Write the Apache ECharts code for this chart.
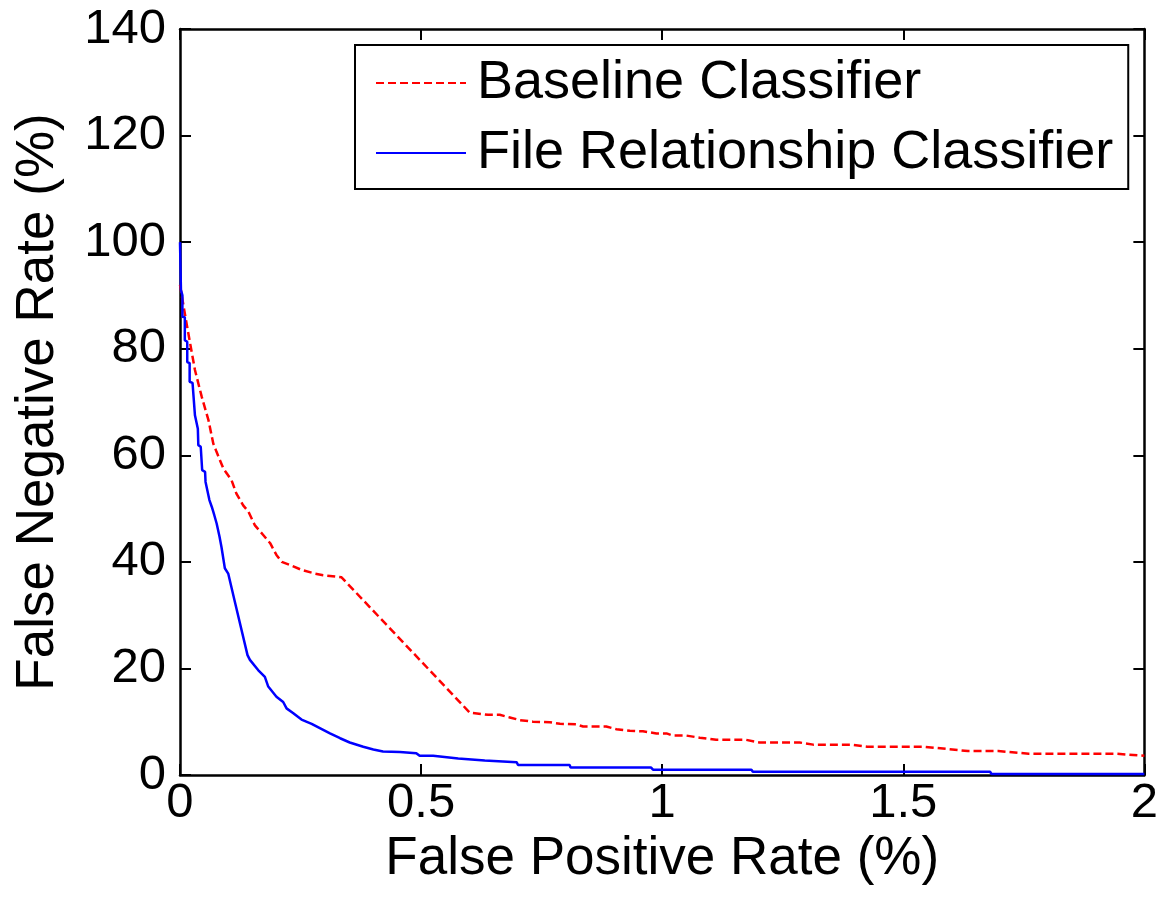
<!DOCTYPE html>
<html>
  <head>
    <meta charset="utf-8" />
    <title>ECharts</title>
    <script src="https://cdn.jsdelivr.net/npm/echarts/dist/echarts.min.js"></script>
    <style>
      html, body { margin: 0; padding: 0; background: #fff; }
    </style>
  </head>
  <body>
    <div id="main" style="width: 1161px; height: 898px;"></div>

    <script type="text/javascript">
      // Baseline classifier (red dashed)
      const baseFpr = [0, 0.01, 0.021, 0.031, 0.045, 0.059, 0.069, 0.076, 0.09, 0.107,
        0.117, 0.131, 0.142, 0.155, 0.173, 0.187, 0.2, 0.211, 0.231, 0.252,
        0.28, 0.297, 0.335, 0.601, 0.639, 0.663, 0.684, 0.705, 0.732, 0.767,
        0.788, 0.822, 0.836, 0.884, 0.905, 0.933, 0.96, 0.988, 1.009, 1.022,
        1.05, 1.078, 1.112, 1.174, 1.202, 1.285, 1.313, 1.39, 1.425, 1.543,
        1.634, 1.697, 1.76, 1.94, 2.0];
      const baseFnr = [92, 86.6, 81, 76, 71, 66.6, 62.2, 60.6, 57.5, 55.3,
        52.8, 50.6, 49.4, 46.9, 45, 43.5, 41.3, 40, 39.3, 38.5,
        37.8, 37.5, 37.1, 11.7, 11.3, 11.3, 10.8, 10.3, 10.0, 9.9,
        9.6, 9.5, 9.1, 9.1, 8.6, 8.3, 8.2, 7.8, 7.8, 7.4,
        7.4, 7.0, 6.6, 6.6, 6.1, 6.1, 5.7, 5.7, 5.3, 5.3,
        4.5, 4.5, 4.0, 4.0, 3.6];

      // File relationship classifier (blue solid)
      const fileFpr = [0, 0.002, 0.005, 0.005, 0.01, 0.01, 0.015, 0.015, 0.02, 0.02,
        0.026, 0.031, 0.035, 0.037, 0.038, 0.043, 0.046, 0.052, 0.053, 0.057,
        0.061, 0.066, 0.071, 0.076, 0.082, 0.086, 0.09, 0.093, 0.1, 0.104,
        0.113, 0.14, 0.145, 0.162, 0.176, 0.183, 0.2, 0.214, 0.221, 0.235,
        0.252, 0.273, 0.29, 0.311, 0.332, 0.352, 0.38, 0.401, 0.421, 0.456,
        0.49, 0.497, 0.525, 0.528, 0.577, 0.58, 0.632, 0.636, 0.698, 0.701,
        0.808, 0.81, 0.977, 0.981, 1.185, 1.188, 1.68, 1.683, 2.0];
      const fileFnr = [100, 91, 90, 86, 85.9, 81.6, 81.3, 77.5, 77.3, 73.8,
        73.6, 67.5, 67.2, 65, 61.9, 61.6, 57.2, 56.9, 55, 54.7,
        51.6, 50.3, 48.8, 47.2, 44.7, 42.8, 42.5, 38.8, 37.8, 37.8,
        32.8, 22.5, 21.6, 19.7, 18.4, 16.6, 14.7, 13.7, 12.5, 11.6,
        10.4, 9.6, 8.8, 7.8, 6.9, 6.1, 5.3, 4.8, 4.4, 4.3,
        4.1, 3.6, 3.6, 3.3, 3.1, 2.8, 2.7, 2.4, 2.4, 1.9,
        1.9, 1.4, 1.4, 1.0, 1.0, 0.6, 0.6, 0.2, 0.2];

      const seriesNames = ['Baseline Classifier', 'File Relationship Classifier'];

      const zip = (xs, ys) => xs.map((x, i) => [x, ys[i]]);

      const font = 'Liberation Sans, Arial, sans-serif';
      const black = '#000';

      var myChart = echarts.init(document.getElementById('main'));

      const baseAxis = {
        type: 'value',
        axisLine: { show: true, onZero: false, lineStyle: { color: black, width: 2.5 } },
        axisTick: { show: true, inside: true, length: 11, lineStyle: { color: black, width: 2 } },
        splitLine: { show: false }
      };

      let option = {
        animation: false,
        backgroundColor: '#fff',
        grid: { left: 180, right: 16, top: 29, bottom: 123 },
        legend: {
          orient: 'vertical',
          left: 355,
          top: 45,
          padding: [8, 15, 6, 20],
          itemGap: 10,
          itemWidth: 90,
          itemHeight: 14,
          borderColor: black,
          borderWidth: 2,
          backgroundColor: '#fff',
          itemStyle: { opacity: 0 },
          textStyle: { fontFamily: font, fontSize: 54, color: black, lineHeight: 60, padding: [0, 0, 0, 6] },
          data: seriesNames
        },
        xAxis: [
          Object.assign({}, baseAxis, {
            min: 0, max: 2, interval: 0.5,
            position: 'bottom',
            name: 'False Positive Rate (%)',
            nameLocation: 'middle',
            nameGap: 52,
            nameTextStyle: { fontFamily: font, fontSize: 53, color: black },
            axisLabel: { margin: 4, fontFamily: font, fontSize: 49, color: black }
          }),
          Object.assign({}, baseAxis, {
            min: 0, max: 2, interval: 0.5,
            position: 'top',
            axisLabel: { show: false }
          })
        ],
        yAxis: [
          Object.assign({}, baseAxis, {
            min: 0, max: 140, interval: 20,
            position: 'left',
            name: 'False Negative Rate (%)',
            nameLocation: 'middle',
            nameGap: 115,
            nameTextStyle: { fontFamily: font, fontSize: 53, color: black },
            axisLabel: { margin: 14, fontFamily: font, fontSize: 49, color: black }
          }),
          Object.assign({}, baseAxis, {
            min: 0, max: 140, interval: 20,
            position: 'right',
            axisLabel: { show: false }
          })
        ],
        series: [
          {
            name: seriesNames[0],
            type: 'line',
            symbol: 'none',
            color: '#ff0000',
            lineStyle: { color: '#ff0000', width: 2.5, type: [8, 4] },
            data: zip(baseFpr, baseFnr)
          },
          {
            name: seriesNames[1],
            type: 'line',
            symbol: 'none',
            color: '#0000ff',
            lineStyle: { color: '#0000ff', width: 2.5, type: 'solid' },
            data: zip(fileFpr, fileFnr)
          }
        ]
      };

      myChart.setOption(option);
    </script>
  </body>
</html>
